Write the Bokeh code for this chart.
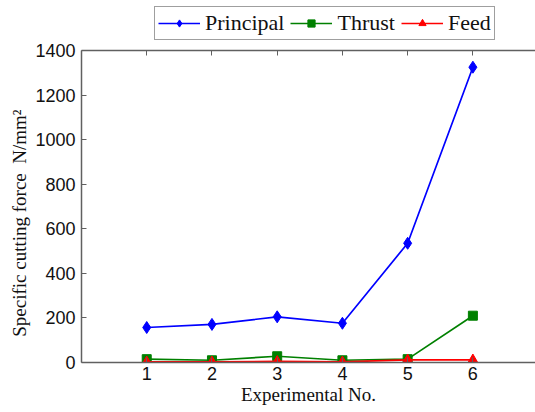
from bokeh.plotting import figure
from bokeh.models import Legend, LegendItem, LinearAxis, FixedTicker, Range1d
from bokeh.layouts import column
from bokeh.embed import file_html
from bokeh.resources import INLINE

experiments = [1, 2, 3, 4, 5, 6]
principal = [157, 171, 205, 176, 535, 1325]
thrust = [15, 10, 28, 10, 15, 210]
feed = [3, 3, 5, 3, 12, 12]

series_names = ["Principal", "Thrust", "Feed"]
x_ticks = [1, 2, 3, 4, 5, 6]
y_ticks = [0, 200, 400, 600, 800, 1000, 1200, 1400]

AX = "#606060"
SERIF = "Liberation Serif"
SANS = "Liberation Sans"
styles = [("#0000ff", "diamond", 12), ("#008000", "square", 9), ("#ff0000", "triangle", 10)]

p = figure(width=535, height=372, output_backend="svg", toolbar_location=None,
           x_range=Range1d(0, 6.96), y_range=Range1d(0, 1400),
           min_border_left=81, min_border_right=0, min_border_top=10, min_border_bottom=50)
p.outline_line_color = None
p.xgrid.visible = False
p.ygrid.visible = False

for ys, (col, mk, sz) in zip([principal, thrust, feed], styles):
    p.line(experiments, ys, line_color=col, line_width=1.7)
    p.scatter(experiments, ys, marker=mk, size=sz, color=col)

for ax in p.xaxis + p.yaxis:
    ax.axis_line_color = AX
    ax.axis_line_width = 1.5
    ax.major_tick_line_color = AX
    ax.major_tick_in = 5
    ax.major_tick_out = 0
    ax.minor_tick_line_color = None
    ax.major_label_text_font = SANS
    ax.major_label_text_font_size = "18px"
    ax.major_label_text_color = "#111111"
    ax.axis_label_text_font = SERIF
    ax.axis_label_text_font_size = "19px"
    ax.axis_label_text_font_style = "normal"
    ax.axis_label_text_color = "#111111"

p.xaxis.ticker = FixedTicker(ticks=x_ticks)
p.yaxis.ticker = FixedTicker(ticks=y_ticks)
p.xaxis.axis_label = "Experimental No."
p.yaxis.axis_label = "Specific cutting force\u00a0\u00a0N/mm\u00b2" + "\u00a0" * 7
p.xaxis.major_label_standoff = 4
p.xaxis.axis_label_standoff = 1
p.yaxis.major_label_standoff = 6
p.yaxis.axis_label_standoff = 2

top = LinearAxis(ticker=FixedTicker(ticks=x_ticks))
top.axis_line_color = AX
top.axis_line_width = 1.5
top.major_tick_line_color = AX
top.major_tick_in = 5
top.major_tick_out = 0
top.minor_tick_line_color = None
top.major_label_text_alpha = 0
top.major_label_text_font_size = "1px"
top.major_label_standoff = 0
p.add_layout(top, "above")

# legend strip above the plot (series drawn out of view so only the legend shows)
pl = figure(width=535, height=40, output_backend="svg", toolbar_location=None,
            x_range=Range1d(-20, -19), y_range=Range1d(-20, -19),
            x_axis_type=None, y_axis_type=None, min_border=0,
            min_border_left=81, min_border_right=0)
pl.outline_line_color = None
pl.xgrid.visible = False
pl.ygrid.visible = False
items = []
for name, ys, (col, mk, sz) in zip(series_names, [principal, thrust, feed], styles):
    lr = pl.line(experiments, ys, line_color=col, line_width=1.7)
    mr = pl.scatter(experiments, ys, marker=mk, size=sz, color=col)
    items.append(LegendItem(label=name, renderers=[lr, mr]))

legend = Legend(items=items, orientation="horizontal", location=(73, 0))
legend.label_text_font = SERIF
legend.label_text_font_size = "22px"
legend.label_text_color = "#111111"
legend.glyph_width = 42
legend.glyph_height = 18
legend.label_standoff = 5
legend.spacing = 6
legend.padding = 3
legend.margin = 0
legend.border_line_color = "#404040"
legend.border_line_width = 1.5
legend.background_fill_alpha = 1
pl.add_layout(legend, "center")

layout = column(pl, p, spacing=0)
open("out.html", "w").write(file_html(layout, INLINE))
